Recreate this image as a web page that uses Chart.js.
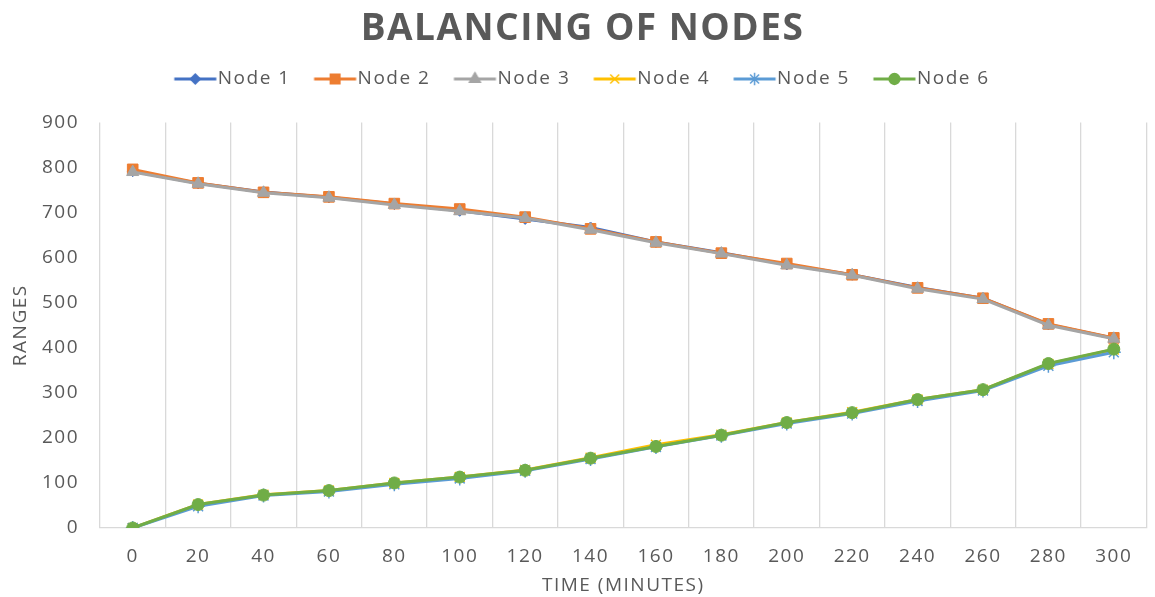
<!DOCTYPE html>
<html><head><meta charset="utf-8">
<script src="https://cdn.jsdelivr.net/npm/chart.js@4"></script>
<style>html,body{margin:0;padding:0;background:#fff;}</style>
</head><body>
<canvas id="c" width="1155" height="597" style="width:1155px;height:597px;display:block"></canvas>
<script>
const timeLabels = ['0','20','40','60','80','100','120','140','160','180','200','220','240','260','280','300'];
const node1 = [792, 765, 746, 734, 719, 704, 686, 667, 635, 611, 585, 562, 534, 510, 452, 421];
const node2 = [796, 766, 745, 735, 720, 708, 690, 664, 635, 610, 587, 562, 533, 510, 453, 422];
const node3 = [790, 764, 744, 733, 717, 703, 688, 662, 633, 609, 583, 561, 531, 508, 450, 420];
const node4 = [0, 52, 74, 83, 100, 113, 129, 156, 185, 207, 234, 257, 285, 307, 364, 396];
const node5 = [0, 48, 72, 81, 97, 110, 127, 153, 180, 205, 232, 254, 282, 305, 360, 390];
const node6 = [0, 52, 73, 83, 100, 113, 128, 155, 181, 206, 234, 256, 285, 307, 365, 397];
const seriesNames = ['Node 1','Node 2','Node 3','Node 4','Node 5','Node 6'];
const seriesData = [node1, node2, node3, node4, node5, node6];
const seriesColors = ['#4472C4','#ED7D31','#A5A5A5','#FFC000','#5B9BD5','#70AD47'];
const seriesStyles = ['rectRot','rect','triangle','crossRot','star','circle'];
const seriesRadius = [5.5, 7.5, 7, 7, 7, 6];

const TEXT = '#595959';
const FONT = "'Open Sans', sans-serif";

function legendIcon(i) {
  const W = 66, H = 20;
  const cv = document.createElement('canvas');
  cv.width = W; cv.height = H;
  const g = cv.getContext('2d');
  const x0 = 33 + 3.5 - 21, x1 = 33 + 3.5 + 21, cy = H / 2;
  g.strokeStyle = seriesColors[i];
  g.fillStyle = seriesColors[i];
  g.lineWidth = 3;
  g.beginPath(); g.moveTo(x0, cy); g.lineTo(x1, cy); g.stroke();
  g.lineWidth = 1.5;
  Chart.helpers.drawPoint(g, {pointStyle: seriesStyles[i], rotation: 0, radius: seriesRadius[i] * 0.9, borderWidth: 1.5}, (x0 + x1) / 2, cy);
  return cv;
}
const icons = seriesNames.map((_, i) => legendIcon(i));

const spacingPlugin = {
  id: 'spacing',
  beforeUpdate(chart) { chart.ctx.letterSpacing = '1.5px'; },
  beforeLayout(chart) { chart.ctx.letterSpacing = '1.5px'; },
  beforeDraw(chart) { chart.ctx.letterSpacing = '1.5px'; }
};

const datasets = seriesNames.map((name, i) => ({
  label: name,
  data: seriesData[i],
  borderColor: seriesColors[i],
  backgroundColor: seriesColors[i],
  borderWidth: 3,
  pointStyle: seriesStyles[i],
  pointRadius: seriesRadius[i],
  pointBorderWidth: (seriesStyles[i] === 'crossRot' || seriesStyles[i] === 'star') ? 1.5 : 1,
  pointHoverRadius: seriesRadius[i],
  tension: 0,
  fill: false,
  order: 6 - i
}));

new Chart(document.getElementById('c'), {
  type: 'line',
  data: { labels: timeLabels, datasets },
  plugins: [spacingPlugin],
  options: {
    responsive: false,
    devicePixelRatio: 1,
    animation: false,
    layout: { padding: { top: 0, left: 10, right: 0, bottom: 0 } },
    plugins: {
      title: {
        display: true,
        text: 'BALANCING OF NODES',
        color: TEXT,
        font: { family: FONT, size: 37, weight: 'bold', lineHeight: 1 },
        padding: { top: 11, bottom: -3 }
      },
      subtitle: {
        display: true,
        text: '',
        weight: 500,
        font: { size: 1, lineHeight: 1 },
        padding: { top: 23, bottom: 0 }
      },
      legend: {
        display: true,
        position: 'top',
        labels: {
          color: TEXT,
          font: { family: FONT, size: 19 },
          usePointStyle: true,
          pointStyleWidth: 33,
          padding: 24.5,
          sort: (a, b) => a.datasetIndex - b.datasetIndex,
          generateLabels(chart) {
            const items = Chart.defaults.plugins.legend.labels.generateLabels(chart);
            items.forEach(it => { it.pointStyle = icons[it.datasetIndex]; });
            return items;
          }
        }
      },
      tooltip: { enabled: false }
    },
    scales: {
      x: {
        type: 'category',
        offset: true,
        grid: { offset: true, color: '#d9d9d9', lineWidth: 1.3, drawTicks: false },
        border: { color: '#d9d9d9', width: 1.3 },
        ticks: { color: TEXT, font: { family: FONT, size: 19 }, padding: 17, maxRotation: 0, autoSkip: false },
        title: { display: true, text: 'TIME (MINUTES)', color: TEXT, font: { family: FONT, size: 19 }, padding: { top: 0, bottom: 0 } },
        afterFit(s) { s.height = 69; }
      },
      y: {
        min: 0, max: 900,
        grid: { display: false, drawTicks: false },
        border: { display: false },
        ticks: { stepSize: 100, color: TEXT, font: { family: FONT, size: 19 }, padding: 21 },
        title: { display: true, text: 'RANGES', color: TEXT, font: { family: FONT, size: 19, lineHeight: 1 }, padding: { top: 1, bottom: 0 } },
        afterFit(s) { s.width = 90; }
      }
    }
  }
});
</script>
</body></html>
